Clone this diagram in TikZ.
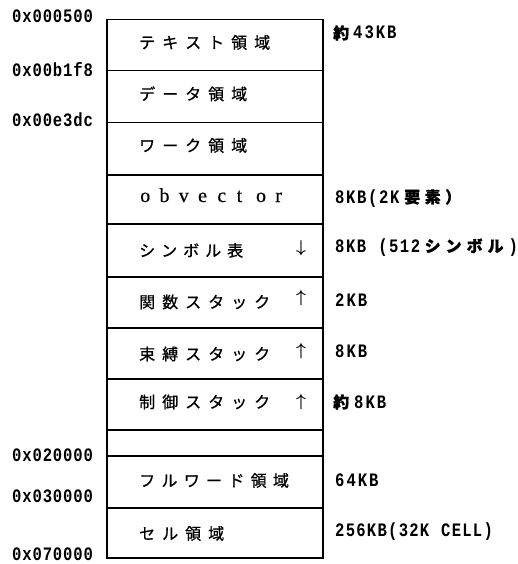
\documentclass[tikz,border=0pt]{standalone}
\usepackage{fontspec}
\newfontfamily\jpf{Noto Sans CJK JP}[FakeBold=0.8]
\newfontfamily\monof{Liberation Mono}[FakeStretch=0.82]
\newfontfamily\serf{Liberation Serif}[FakeBold=0.6]
\makeatletter
\newcommand\pitch[2]{\def\pitch@w{#1}\pitch@loop#2\pitch@end}
\def\pitch@end{\pitch@end}
\def\pitch@loop#1{\ifx#1\pitch@end\else\makebox[\pitch@w][l]{#1}\expandafter\pitch@loop\fi}
\makeatother
\newcommand\jps{\jpf\fontsize{16}{18}\selectfont}
\tikzset{
  cell/.style={draw, line width=1.5pt, inner sep=0pt, minimum width=216pt, anchor=north west},
  lab/.style={anchor=base west, inner sep=0pt, font=\jps},
  addr/.style={anchor=base west, inner sep=0pt, font=\monof\bfseries\fontsize{19}{20}\selectfont},
  sizelab/.style={anchor=base west, inner sep=0pt, font=\monof\bfseries\fontsize{19}{20}\selectfont},
  arr/.style={inner sep=0pt, font=\boldmath\fontsize{16}{18}\selectfont},
}
\begin{document}
\begin{tikzpicture}[x=1pt,y=-1pt]
\useasboundingbox (0,0) rectangle (518,564);
% memory cells
\node[cell, minimum height=51pt] (r1) at (106,19) {};
\node[cell, minimum height=52pt] (r2) at (106,70) {};
\node[cell, minimum height=52pt] (r3) at (106,122) {};
\node[cell, minimum height=49pt] (r4) at (106,174) {};
\node[cell, minimum height=53pt] (r5) at (106,223) {};
\node[cell, minimum height=51pt] (r6) at (106,276) {};
\node[cell, minimum height=51pt] (r7) at (106,327) {};
\node[cell, minimum height=51pt] (r8) at (106,378) {};
\node[cell, minimum height=26pt] (r9) at (106,429) {};
\node[cell, minimum height=52pt] (r10) at (106,455) {};
\node[cell, minimum height=50pt] (r11) at (106,507) {};
% cell labels
\node[lab] (t1) at (139,48.5) {\pitch{23pt}{テキスト領域}};
\node[lab] (t2) at (139,100) {\pitch{23pt}{データ領域}};
\node[lab] (t3) at (139,151.5) {\pitch{23pt}{ワーク領域}};
\node[lab, font=\serf\fontsize{20}{22}\selectfont] (t4) at (140,202) {\pitch{19.3pt}{obvector}};
\node[lab] (t5) at (139,256.5) {\pitch{22pt}{シンボル表}};
\node[lab] (t6) at (139,308) {\pitch{23pt}{関数スタック}};
\node[lab] (t7) at (139,360) {\pitch{23pt}{束縛スタック}};
\node[lab] (t8) at (139,408) {\pitch{23pt}{制御スタック}};
\node[lab] (t10) at (139,486.5) {\pitch{22.3pt}{フルワード領域}};
\node[lab] (t11) at (139,539.5) {\pitch{23pt}{セル領域}};
% arrows
\node[arr] (a5) at (301,248) {$\downarrow$};
\node[arr] (a6) at (301,298.5) {$\uparrow$};
\node[arr] (a7) at (301,351.5) {$\uparrow$};
\node[arr] (a8) at (301,402.5) {$\uparrow$};
% addresses
\node[addr] (m1) at (12,23) {\pitch{10.2pt}{0x000500}};
\node[addr] (m2) at (12,77) {\pitch{10.2pt}{0x00b1f8}};
\node[addr] (m3) at (12,127) {\pitch{10.2pt}{0x00e3dc}};
\node[addr] (m4) at (12,461) {\pitch{10.2pt}{0x020000}};
\node[addr] (m5) at (12,502) {\pitch{10.2pt}{0x030000}};
\node[addr] (m6) at (12,560) {\pitch{10.2pt}{0x070000}};
% sizes
\node[sizelab] (s1) at (333,39) {{\jps 約}\hspace{4pt}\pitch{11.3pt}{43KB}};
\node[sizelab] (s4) at (335,203) {\pitch{11pt}{8KB(2K}\hspace{3pt}{\jps\pitch{20.5pt}{要素）}}};
\node[sizelab] (s5) at (335,252) {\pitch{10.8pt}{8KB~(512}\hspace{3pt}{\jps\pitch{21pt}{シンボル}})};
\node[sizelab] (s6) at (335,306) {\pitch{11.3pt}{2KB}};
\node[sizelab] (s7) at (335,357.5) {\pitch{11.3pt}{8KB}};
\node[sizelab] (s8) at (333,408) {{\jps 約}\hspace{5pt}\pitch{11.3pt}{8KB}};
\node[sizelab] (s10) at (335,486) {\pitch{11.3pt}{64KB}};
\node[sizelab] (s11) at (335,536) {\pitch{10.6pt}{256KB(32K~CELL)}};
\end{tikzpicture}
\end{document}
